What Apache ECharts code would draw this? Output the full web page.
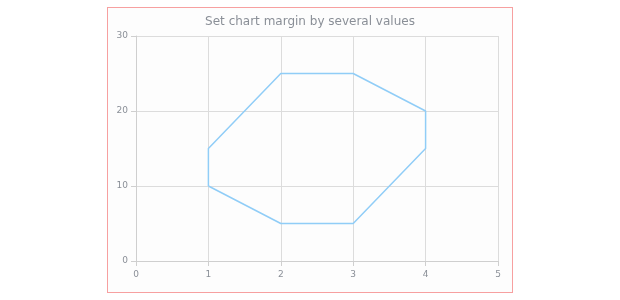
<!DOCTYPE html>
<html><head><meta charset="utf-8">
<script src="https://cdn.jsdelivr.net/npm/echarts@6/dist/echarts.min.js"></script>
<style>
html,body{margin:0;padding:0;background:#fff;}
#c{position:absolute;left:107px;top:7px;width:404px;height:284px;border:1px solid #f7a0a0;background:#fdfdfd;}
</style></head><body>
<div id="c"></div>
<script>
var xValues = [1, 2, 3, 4, 4, 3, 2, 1, 1];
var yValues = [10, 5, 5, 15, 20, 25, 25, 15, 10];
var titleText = 'Set chart margin by several values';

var chart = echarts.init(document.getElementById('c'));
var axisCommon = {
  axisLine: {show: true, lineStyle: {color: '#cfcfcf'}},
  axisTick: {show: true, lineStyle: {color: '#cfcfcf'}},
  splitLine: {show: true, lineStyle: {color: '#dcdcdc'}},
  axisLabel: {color: '#8a8f97', fontSize: 9, fontFamily: 'DejaVu Sans'}
};
chart.setOption({
  animation: false,
  title: {text: titleText, left: 'center', top: 3, textStyle: {color: '#8a8f97', fontSize: 12, fontWeight: 'normal', fontFamily: 'DejaVu Sans'}},
  grid: {left: 28, right: 14, top: 28, bottom: 31},
  xAxis: Object.assign({type: 'value', min: 0, max: 5, interval: 1}, axisCommon, {axisLabel: {color: '#8a8f97', fontSize: 9, fontFamily: 'DejaVu Sans', margin: 9}}),
  yAxis: Object.assign({type: 'value', min: 0, max: 30, interval: 10}, axisCommon),
  series: [{
    type: 'line',
    data: xValues.map(function(x, i){ return [x, yValues[i]]; }),
    showSymbol: false,
    lineStyle: {color: '#90cdf7', width: 1.5}
  }]
});
</script></body></html>
